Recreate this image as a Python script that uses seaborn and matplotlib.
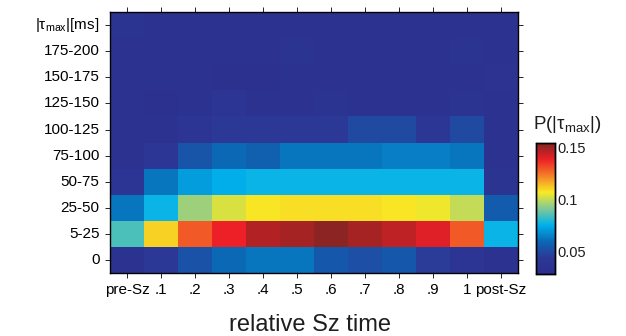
import numpy as np
import pandas as pd
import matplotlib
matplotlib.use("Agg")
import matplotlib.pyplot as plt
from matplotlib.colors import LinearSegmentedColormap
import seaborn as sns

# ---- data ----
time_labels = ["pre-Sz", ".1", ".2", ".3", ".4", ".5", ".6", ".7", ".8", ".9", "1", "post-Sz"]
lag_labels = ["0", "5-25", "25-50", "50-75", "75-100", "100-125",
              "125-150", "150-175", "175-200", r"$|\mathrm{τ}_{\mathrm{max}}|$[ms]"]  # bottom -> top

row_0       = [0.035, 0.045, 0.053, 0.060, 0.063, 0.063, 0.055, 0.052, 0.055, 0.046, 0.040, 0.036]
row_5_25    = [0.085, 0.111, 0.129, 0.138, 0.147, 0.149, 0.153, 0.149, 0.145, 0.140, 0.129, 0.077]
row_25_50   = [0.063, 0.077, 0.095, 0.103, 0.108, 0.109, 0.109, 0.109, 0.108, 0.106, 0.100, 0.056]
row_50_75   = [0.040, 0.063, 0.071, 0.075, 0.077, 0.077, 0.077, 0.077, 0.077, 0.077, 0.077, 0.039]
row_75_100  = [0.035, 0.041, 0.054, 0.060, 0.057, 0.063, 0.063, 0.063, 0.065, 0.065, 0.063, 0.035]
row_100_125 = [0.035, 0.035, 0.040, 0.045, 0.045, 0.045, 0.045, 0.050, 0.050, 0.042, 0.050, 0.036]
row_125_150 = [0.036, 0.034, 0.036, 0.040, 0.036, 0.036, 0.039, 0.036, 0.036, 0.036, 0.039, 0.036]
row_150_175 = [0.036, 0.036, 0.036, 0.032, 0.032, 0.035, 0.035, 0.035, 0.035, 0.035, 0.036, 0.037]
row_175_200 = [0.036, 0.036, 0.036, 0.036, 0.036, 0.038, 0.036, 0.036, 0.036, 0.036, 0.038, 0.036]
row_top     = [0.038, 0.035, 0.035, 0.035, 0.035, 0.035, 0.035, 0.035, 0.035, 0.035, 0.035, 0.035]

rows_bottom_to_top = [row_0, row_5_25, row_25_50, row_50_75, row_75_100, row_100_125,
                      row_125_150, row_150_175, row_175_200, row_top]

cbar_ticks = [0.05, 0.1, 0.15]
cbar_ticklabels = ["0.05", "0.1", "0.15"]
vmin, vmax = 0.029, 0.154

df = pd.DataFrame(rows_bottom_to_top[::-1], index=lag_labels[::-1], columns=time_labels)

# print-style jet colormap
anchors = [
    (0.000, (44, 46, 140)),
    (0.125, (44, 56, 150)),
    (0.250, (10, 105, 182)),
    (0.375, (0, 178, 236)),
    (0.500, (130, 200, 150)),
    (0.625, (248, 234, 35)),
    (0.750, (244, 128, 40)),
    (0.875, (236, 32, 38)),
    (1.000, (132, 36, 34)),
]
cmap = LinearSegmentedColormap.from_list(
    "printjet", [(p, tuple(c / 255 for c in col)) for p, col in anchors])

sns.set_style("white")
plt.rcParams["font.family"] = ["Liberation Sans", "DejaVu Sans"]
plt.rcParams["mathtext.fontset"] = "custom"
plt.rcParams["mathtext.rm"] = "Liberation Sans"
plt.rcParams["mathtext.it"] = "Liberation Sans:italic"
txt = "#1e1e1e"

fig = plt.figure(figsize=(6.26, 3.36), dpi=100)
ax = fig.add_axes([0.1757, 0.1875, 0.652, 0.7765])
cax = fig.add_axes([0.856, 0.1845, 0.0304, 0.39])

sns.heatmap(df, cmap=cmap, vmin=vmin, vmax=vmax, ax=ax, cbar_ax=cax,
            cbar_kws={"ticks": cbar_ticks})

ax.set_yticklabels(lag_labels[::-1], rotation=0, fontsize=11, color=txt)
ax.set_xticklabels(time_labels, rotation=0, fontsize=11, color=txt)
ax.set_xlabel("relative Sz time", fontsize=17, color=txt)
ax.xaxis.label.set_va("baseline")
ax.xaxis.set_label_coords(0.49, -0.222)
ax.set_ylabel("")
for s in ax.spines.values():
    s.set_visible(True)
    s.set_linewidth(1.0)
    s.set_color("black")
ax.tick_params(axis="both", which="both", direction="out", length=3.5, width=0.6,
               top=True, right=True, bottom=True, left=True, labeltop=False, labelright=False,
               pad=4, colors="black")
ax.tick_params(axis="x", pad=4)

cax.set_yticklabels(cbar_ticklabels, fontsize=10.5, color=txt)
cax.tick_params(axis="y", direction="in", length=3, width=0.6, left=True, right=True, pad=2)
for s in cax.spines.values():
    s.set_visible(True)
    s.set_linewidth(1.0)
    s.set_color("black")

fig.text(0.906, 0.598, r"P($|\mathrm{τ}_{\mathrm{max}}|$)", fontsize=13.5, ha="center",
         va="bottom", color=txt)

fig.savefig("out.png", dpi=100)
